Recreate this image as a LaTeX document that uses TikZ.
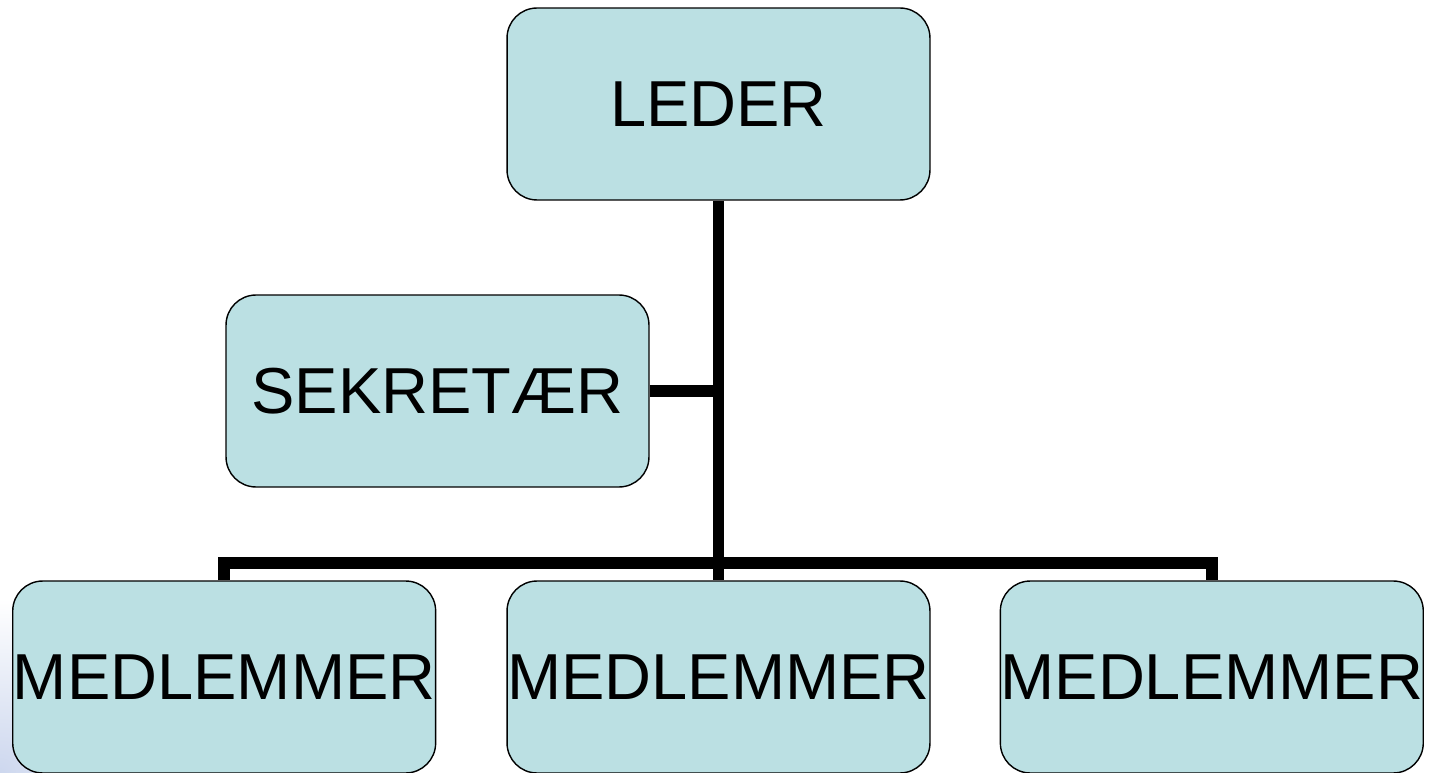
\documentclass[tikz,border=0pt]{standalone}
\usepackage{fontspec}
\setmainfont{Liberation Sans}
\usepackage{tikz}
\usetikzlibrary{calc, positioning}
\definecolor{boxfill}{RGB}{187,224,227}
\definecolor{slidefade}{RGB}{205,215,238}
\tikzset{
    x=0.02cm, y=-0.02cm,
    unit/.style ={rectangle, rounded corners=0.6cm, draw, thick, fill=boxfill, minimum width=8.46cm, minimum height=3.84cm, inner sep=0pt, font=\fontsize{37}{44}\selectfont}, % all boxes have the same size
    bar/.style = {line width=0.23cm}
}
\begin{document}
\begin{tikzpicture}
    \useasboundingbox (0,0) rectangle (1436,773);
    % faint slide background in the lower left corner
    \begin{scope}
        \clip (0,0) rectangle (1436,773);
        \shade[inner color=slidefade, outer color=white] (0,773) circle (3.5cm);
    \end{scope}
    \node [unit] (leder) at (718.5,104) {LEDER};
    \node [unit] (sekretaer) at (437.5,391) {SEKRETÆR};
    \node [unit] (medlem2) at (718.5,677) {MEDLEMMER};
    \node [unit, left=1.4cm of medlem2] (medlem1) {MEDLEMMER};
    \node [unit, right=1.38cm of medlem2] (medlem3) {MEDLEMMER};
    \coordinate (bus) at (718.5,563);
    % connectors
    \draw [bar] (leder) -- (medlem2);
    \draw [bar] (sekretaer.east) -- (sekretaer.east -| leder.south);
    \draw [bar] (medlem1.north) |- (bus) -| (medlem3.north);
\end{tikzpicture}
\end{document}
